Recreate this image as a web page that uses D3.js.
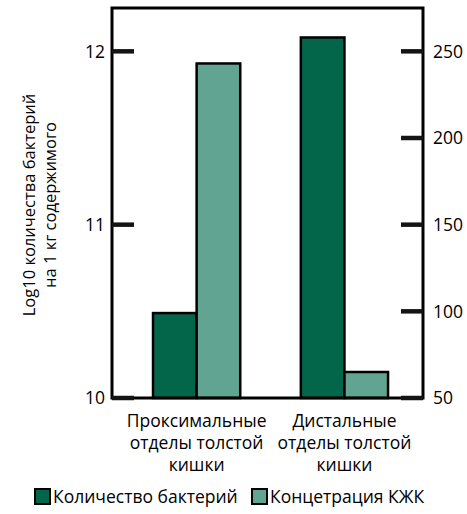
<!DOCTYPE html>
<html>
<head>
<meta charset="utf-8">
<script src="https://cdn.jsdelivr.net/npm/d3@7"></script>
<style>
  html, body { margin: 0; padding: 0; background: #fff; }
  svg { display: block; font-family: "Open Sans", sans-serif; }
</style>
</head>
<body>
<svg id="chart" width="467" height="514"></svg>
<script>
// Regions of the colon
const categories = [
  ["Проксимальные", "отделы толстой", "кишки"],
  ["Дистальные", "отделы толстой", "кишки"]
];
const categoryKeys = ["prox", "dist"];

// Log10 bacteria per kg of contents (left axis)
const bacteriaLog = [10.49, 12.08];
// Short-chain fatty acid concentration (right axis)
const scfa = [243, 65];

const leftTicks = [10, 11, 12];
const rightTicks = [50, 100, 150, 200, 250];

const seriesNames = ["Количество бактерий", "Концетрация КЖК"];
const colors = ["#03664a", "#62a492"];
const yTitle = ["Log10 количества бактерий", "на 1 кг содержимого"];

const svg = d3.select("#chart");
const plot = { left: 112, right: 423, top: 8, bottom: 398 };
const fs = 17.5;
const tickLen = 22;

const yLeft = d3.scaleLinear().domain([10, 12.25]).range([plot.bottom, plot.top]);
const yRight = d3.scaleLinear().domain([50, 275]).range([plot.bottom, plot.top]);

const x0 = d3.scaleBand()
  .domain(categoryKeys)
  .range([plot.left, plot.right])
  .paddingInner(0.41)
  .paddingOuter(0.257)
  .align(0.54);
const x1 = d3.scaleBand().domain([0, 1]).range([0, x0.bandwidth()]);

// Bars: bacteria on the left scale, SCFA on the right scale
const g = svg.append("g");
categoryKeys.forEach((k, i) => {
  const grp = g.append("g").attr("transform", `translate(${x0(k)},0)`);
  grp.append("rect")
    .attr("x", x1(0)).attr("width", x1.bandwidth())
    .attr("y", yLeft(bacteriaLog[i]))
    .attr("height", plot.bottom - yLeft(bacteriaLog[i]))
    .attr("fill", colors[0]).attr("stroke", "#000").attr("stroke-width", 2.5);
  grp.append("rect")
    .attr("x", x1(1)).attr("width", x1.bandwidth())
    .attr("y", yRight(scfa[i]))
    .attr("height", plot.bottom - yRight(scfa[i]))
    .attr("fill", colors[1]).attr("stroke", "#000").attr("stroke-width", 2.5);
});

// Frame
svg.append("rect")
  .attr("x", plot.left).attr("y", plot.top)
  .attr("width", plot.right - plot.left).attr("height", plot.bottom - plot.top)
  .attr("fill", "none").attr("stroke", "#000").attr("stroke-width", 3);

// Axis tick labels
svg.append("g").selectAll("text").data(leftTicks).join("text")
  .attr("x", plot.left - 7).attr("y", d => yLeft(d)).attr("dy", "0.36em")
  .attr("text-anchor", "end").attr("font-size", fs).attr("fill", "#000")
  .text(d3.format("d"));
svg.append("g").selectAll("text").data(rightTicks).join("text")
  .attr("x", plot.right + 10).attr("y", d => yRight(d)).attr("dy", "0.36em")
  .attr("text-anchor", "start").attr("font-size", fs).attr("fill", "#000")
  .text(d3.format("d"));

// Category labels
categoryKeys.forEach((k, i) => {
  const cx = x0(k) + x0.bandwidth() / 2;
  const t = svg.append("text").attr("text-anchor", "middle")
    .attr("font-size", fs).attr("fill", "#000");
  categories[i].forEach((line, j) => {
    t.append("tspan").attr("x", cx).attr("y", 427 + j * 22).text(line);
  });
});

// Y axis title
const yt = svg.append("text")
  .attr("transform", `translate(0,${(plot.top + plot.bottom) / 2 + 2}) rotate(-90)`)
  .attr("text-anchor", "middle").attr("font-size", 16.5).attr("fill", "#000");
yTitle.forEach((line, j) => {
  yt.append("tspan").attr("x", 0).attr("y", 35 + j * 21).text(line);
});

// Legend
const legendX = [35, 252];
seriesNames.forEach((name, i) => {
  svg.append("rect")
    .attr("x", legendX[i]).attr("y", 489).attr("width", 15).attr("height", 15)
    .attr("fill", colors[i]).attr("stroke", "#000").attr("stroke-width", 2);
  svg.append("text")
    .attr("x", legendX[i] + 18).attr("y", 503)
    .attr("font-size", fs).attr("fill", "#000").text(name);
});

// Inward tick marks on both axes
const ticks = svg.append("g").attr("class", "tick-marks");
ticks.selectAll("line.l").data(leftTicks).join("line").attr("class", "l")
  .attr("x1", plot.left).attr("x2", plot.left + tickLen)
  .attr("y1", d => yLeft(d)).attr("y2", d => yLeft(d));
ticks.selectAll("line.r").data(rightTicks).join("line").attr("class", "r")
  .attr("x1", plot.right).attr("x2", plot.right - tickLen)
  .attr("y1", d => yRight(d)).attr("y2", d => yRight(d));
ticks.selectAll("line")
  .style("stroke", "#141414").style("stroke-width", "4.5px");
</script>
</body>
</html>
